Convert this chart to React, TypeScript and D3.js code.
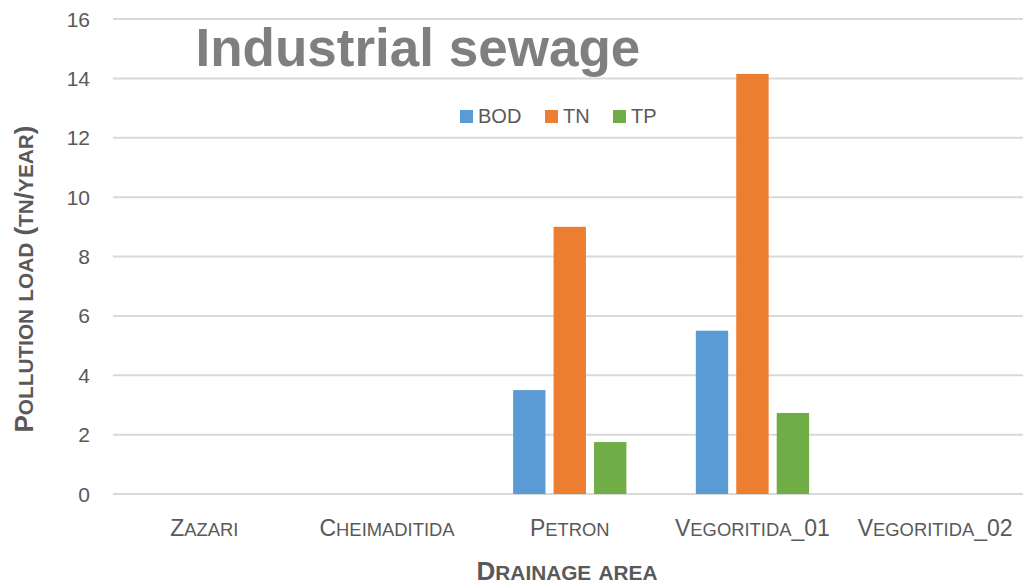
import React from "react";
import * as d3 from "d3";

const categories = ["Zazari", "Cheimaditida", "Petron", "Vegoritida_01", "Vegoritida_02"];
const seriesNames = ["BOD", "TN", "TP"];
const bodValues = [0, 0, 3.5, 5.5, 0];
const tnValues = [0, 0, 9.0, 14.15, 0];
const tpValues = [0, 0, 1.75, 2.73, 0];
const yTicks = [0, 2, 4, 6, 8, 10, 12, 14, 16];
const colors = ["#5B9BD5", "#ED7D31", "#70AD47"];
const seriesValues = [bodValues, tnValues, tpValues];

const W = 1023;
const H = 585;
const TEXT = "#595959";
const FONT = "'Liberation Sans', Arial, sans-serif";

function SmallCaps({ text, size, ratio = 0.8 }: { text: string; size: number; ratio?: number }) {
  const runs: { s: string; small: boolean }[] = [];
  for (const ch of text) {
    const small = ch !== ch.toUpperCase() && ch === ch.toLowerCase();
    const last = runs[runs.length - 1];
    if (last && last.small === small) last.s += ch;
    else runs.push({ s: ch, small });
  }
  return (
    <>
      {runs.map((r, i) => (
        <tspan key={i} fontSize={r.small ? size * ratio : size}>
          {r.small ? r.s.toUpperCase() : r.s}
        </tspan>
      ))}
    </>
  );
}

export default function App() {
  const x0 = d3.scaleBand<string>().domain(categories).range([113, 1026.5]).paddingInner(0).paddingOuter(0);
  const bw = x0.bandwidth();
  const groupW = bw * 0.62;
  const x1 = d3.scaleBand<string>().domain(seriesNames).range([0, groupW]).paddingInner(0.2).paddingOuter(0);
  const y = d3.scaleLinear().domain([0, 16]).range([494, 19]);

  const legendX = [460, 545, 613];

  return (
    <svg
      width={W}
      height={H}
      style={{ position: "absolute", left: 0, top: 0, background: "#fff" }}
      fontFamily={FONT}
    >
      <rect x={0} y={0} width={W} height={H} fill="#fff" />
      {yTicks.map((t) => (
        <line key={t} x1={113} x2={1023} y1={y(t)} y2={y(t)} stroke="#D9D9D9" strokeWidth={2} />
      ))}
      {yTicks.map((t) => (
        <text key={"l" + t} x={90} y={y(t)} dy="0.36em" textAnchor="end" fontSize={21} fill={TEXT}>
          {t}
        </text>
      ))}
      {categories.map((c, ci) => (
        <g key={c} transform={`translate(${(x0(c) as number) + (bw - groupW) / 2},0)`}>
          {seriesNames.map((s, si) => {
            const v = seriesValues[si][ci];
            if (!v) return null;
            return (
              <rect
                key={s}
                x={x1(s) as number}
                y={y(v)}
                width={x1.bandwidth()}
                height={y(0) - y(v)}
                fill={colors[si]}
              />
            );
          })}
        </g>
      ))}
      {categories.map((c) => (
        <text key={"c" + c} x={(x0(c) as number) + bw / 2} y={536} textAnchor="middle" fill={TEXT} fontSize={23}>
          <SmallCaps text={c} size={23} />
        </text>
      ))}
      <text x={567} y={580} textAnchor="middle" fill={TEXT} fontWeight="bold" fontSize={26}>
        <SmallCaps text="Drainage area" size={26} />
      </text>
      <text transform="translate(33,279) rotate(-90)" textAnchor="middle" fill={TEXT} fontWeight="bold" fontSize={26}>
        <SmallCaps text="Pollution load (tn/year)" size={26} />
      </text>
      <text x={195.5} y={66} fontSize={53} fontWeight="bold" fill="#7F7F7F">
        Industrial sewage
      </text>
      {seriesNames.map((s, i) => (
        <g key={"lg" + s}>
          <rect x={legendX[i]} y={110} width={13} height={13} fill={colors[i]} />
          <text x={legendX[i] + 18} y={123} fontSize={20} fill={TEXT}>
            {s}
          </text>
        </g>
      ))}
    </svg>
  );
}
